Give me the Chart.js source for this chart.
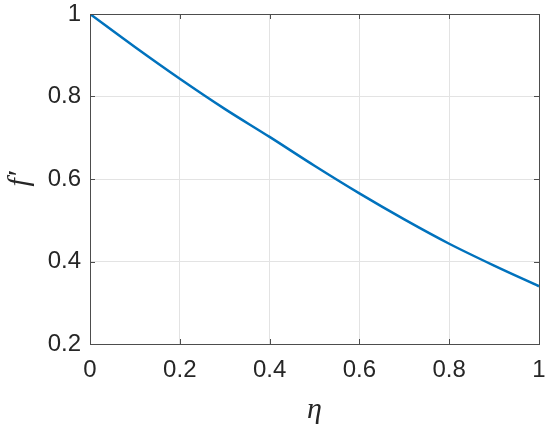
<!DOCTYPE html>
<html>
<head>
<meta charset="utf-8">
<script src="https://cdn.jsdelivr.net/npm/chart.js@4/dist/chart.umd.min.js"></script>
<style>
  html, body { margin: 0; padding: 0; background: #fff; }
  #wrap { width: 550px; height: 430px; }
</style>
</head>
<body>
<div id="wrap"><canvas id="chart"></canvas></div>
<script>
const etaValues = [0, 0.1, 0.2, 0.3, 0.4, 0.5, 0.6, 0.7, 0.8, 0.9, 1.0];
const fPrimeValues = [1.0, 0.92, 0.843, 0.77, 0.702, 0.632, 0.565, 0.502, 0.443, 0.39, 0.34];
const xTicks = [0, 0.2, 0.4, 0.6, 0.8, 1];
const yTicks = [0.2, 0.4, 0.6, 0.8, 1];

const axisColor = '#4d4d4d';
const textColor = '#262626';
const fmt = v => String(+Number(v).toFixed(1));

// MATLAB-style box with inward ticks on all four sides
const boxTicks = {
  id: 'boxTicks',
  afterDraw(chart) {
    const { ctx, chartArea: a, scales } = chart;
    const len = 5;
    ctx.save();
    ctx.strokeStyle = axisColor;
    ctx.lineWidth = 1;
    ctx.beginPath();
    xTicks.forEach(v => {
      const px = Math.round(scales.x.getPixelForValue(v)) + 0.5;
      ctx.moveTo(px, a.bottom); ctx.lineTo(px, a.bottom - len);
      ctx.moveTo(px, a.top); ctx.lineTo(px, a.top + len);
    });
    yTicks.forEach(v => {
      const py = Math.round(scales.y.getPixelForValue(v)) + 0.5;
      ctx.moveTo(a.left, py); ctx.lineTo(a.left + len, py);
      ctx.moveTo(a.right, py); ctx.lineTo(a.right - len, py);
    });
    ctx.stroke();
    ctx.strokeRect(Math.round(a.left) + 0.5, Math.round(a.top) + 0.5,
      Math.round(a.right - a.left), Math.round(a.bottom - a.top));
    ctx.restore();
  }
};

new Chart(document.getElementById('chart'), {
  type: 'line',
  data: {
    datasets: [{
      data: etaValues.map((x, i) => ({ x, y: fPrimeValues[i] })),
      borderColor: '#0072BD',
      borderWidth: 2.5,
      pointRadius: 0,
      cubicInterpolationMode: 'monotone',
      fill: false
    }]
  },
  options: {
    responsive: true,
    maintainAspectRatio: false,
    animation: false,
    layout: { padding: { top: 14, right: 11, left: 0, bottom: 0 } },
    plugins: { legend: { display: false }, tooltip: { enabled: false } },
    scales: {
      x: {
        type: 'linear',
        min: 0, max: 1,
        afterFit: s => { s.height = 86; s.paddingLeft = 0; s.paddingRight = 0; },
        afterBuildTicks: s => { s.ticks = xTicks.map(v => ({ value: v })); },
        grid: { color: '#e3e3e3', drawTicks: false },
        border: { display: false },
        ticks: {
          color: textColor, padding: 12, maxRotation: 0,
          callback: fmt,
          font: { family: 'Liberation Sans, Arial, sans-serif', size: 24 }
        },
        title: {
          display: true, text: 'η', color: textColor,
          padding: { top: 0, bottom: 2 },
          font: { family: 'Liberation Serif, serif', size: 30, style: 'italic' }
        }
      },
      y: {
        type: 'linear',
        min: 0.2, max: 1,
        afterFit: s => { s.width = 90; s.paddingTop = 0; s.paddingBottom = 0; },
        afterBuildTicks: s => { s.ticks = yTicks.map(v => ({ value: v })); },
        grid: { color: '#e3e3e3', drawTicks: false },
        border: { display: false },
        ticks: {
          color: textColor, padding: 9,
          callback: fmt,
          font: { family: 'Liberation Sans, Arial, sans-serif', size: 24 }
        },
        title: {
          display: true, text: 'f′', color: textColor,
          padding: { top: 2, bottom: 0 },
          font: { family: 'Liberation Serif, serif', size: 30, style: 'italic' }
        }
      }
    }
  },
  plugins: [boxTicks]
});
</script>
</body>
</html>
